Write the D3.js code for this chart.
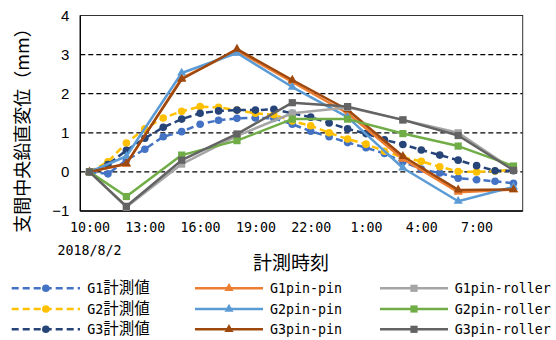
<!DOCTYPE html>
<html>
<head>
<meta charset="utf-8">
<script src="https://cdn.jsdelivr.net/npm/d3@7/dist/d3.min.js"></script>
<style>
  html, body { margin: 0; padding: 0; background: #fff; }
  svg { display: block; }
</style>
</head>
<body>
<svg id="chart" width="556" height="340"></svg>
<script>
// Hourly categories of the measurement period (2018/8/2 10:00 – 8/3 9:00)
const hours = ["10:00","11:00","12:00","13:00","14:00","15:00","16:00","17:00",
  "18:00","19:00","20:00","21:00","22:00","23:00","0:00","1:00","2:00","3:00",
  "4:00","5:00","6:00","7:00","8:00","9:00"];
const tickLabels = ["10:00","13:00","16:00","19:00","22:00","1:00","4:00","7:00"];
const yTicks = [-1, 0, 1, 2, 3, 4];

// Measured mid-span vertical displacement (mm), hourly
const g1Measured = [0, -0.05, 0.3, 0.58, 0.9, 1.03, 1.22, 1.32, 1.37, 1.38, 1.37, 1.22,
  1.04, 0.9, 0.75, 0.62, 0.47, 0.26, 0.07, -0.03, -0.16, -0.2, -0.24, -0.29];
const g2Measured = [0, 0.26, 0.74, 1.1, 1.38, 1.55, 1.67, 1.65, 1.58, 1.5, 1.46, 1.3,
  1.18, 1.0, 0.84, 0.71, 0.53, 0.37, 0.27, 0.13, 0.01, 0.0, 0.02, 0.05];
const g3Measured = [0, 0.19, 0.55, 0.86, 1.14, 1.35, 1.5, 1.56, 1.58, 1.58, 1.6, 1.5,
  1.4, 1.25, 1.1, 0.98, 0.82, 0.7, 0.56, 0.43, 0.3, 0.16, 0.03, 0.03];

// Analysis results at the calculation times
const simTimes = ["10:00","12:00","15:00","18:00","21:00","0:00","3:00","6:00","9:00"];
const g1PinPin    = [0, 0.2, 2.4, 3.1, 2.3, 1.5, 0.33, -0.52, -0.45];
const g2PinPin    = [0, 0.4, 2.53, 3.04, 2.17, 1.4, 0.1, -0.75, -0.38];
const g3PinPin    = [0, 0.21, 2.37, 3.14, 2.35, 1.59, 0.4, -0.46, -0.45];
const g1PinRoller = [0, -0.9, 0.2, 0.92, 1.5, 1.65, 1.33, 1.0, 0.05];
const g2PinRoller = [0, -0.63, 0.43, 0.8, 1.35, 1.35, 0.98, 0.66, 0.15];
const g3PinRoller = [0, -0.88, 0.3, 0.97, 1.77, 1.67, 1.33, 0.93, 0.04];

const series = [
  { name: "G1計測値", times: hours, values: g1Measured, color: "#4472C4", marker: "circle", dashed: true },
  { name: "G2計測値", times: hours, values: g2Measured, color: "#FFC000", marker: "circle", dashed: true },
  { name: "G3計測値", times: hours, values: g3Measured, color: "#264478", marker: "circle", dashed: true },
  { name: "G1pin-pin", times: simTimes, values: g1PinPin, color: "#ED7D31", marker: "triangle" },
  { name: "G2pin-pin", times: simTimes, values: g2PinPin, color: "#5B9BD5", marker: "triangle" },
  { name: "G3pin-pin", times: simTimes, values: g3PinPin, color: "#9E480E", marker: "triangle" },
  { name: "G1pin-roller", times: simTimes, values: g1PinRoller, color: "#A5A5A5", marker: "square" },
  { name: "G2pin-roller", times: simTimes, values: g2PinRoller, color: "#70AD47", marker: "square" },
  { name: "G3pin-roller", times: simTimes, values: g3PinRoller, color: "#636363", marker: "square" }
];

const svg = d3.select("#chart");
const plot = { left: 80.3, right: 522.7, top: 15.5, bottom: 211 };

const x = d3.scalePoint().domain(hours).range([plot.left, plot.right]).padding(0.5);
const y = d3.scaleLinear().domain([-1, 4]).range([plot.bottom, plot.top]);

const monoFont = "'DejaVu Sans Mono', 'Liberation Mono', monospace";
const cjkFont = "'Noto Sans CJK JP', 'Noto Sans', sans-serif";

// Horizontal dashed gridlines
svg.append("g").selectAll("line")
  .data([0, 1, 2, 3])
  .join("line")
  .attr("x1", plot.left).attr("x2", plot.right)
  .attr("y1", d => y(d)).attr("y2", d => y(d))
  .attr("stroke", "#000").attr("stroke-width", 1.2)
  .attr("stroke-dasharray", "5,3");

// Plot frame
svg.append("rect")
  .attr("x", plot.left).attr("y", plot.top)
  .attr("width", plot.right - plot.left).attr("height", plot.bottom - plot.top)
  .attr("fill", "none").attr("stroke", "#333").attr("stroke-width", 1);
svg.append("line")
  .attr("x1", plot.left).attr("x2", plot.right)
  .attr("y1", plot.bottom).attr("y2", plot.bottom)
  .attr("stroke", "#000").attr("stroke-width", 1.3);
svg.append("line")
  .attr("x1", plot.left).attr("x2", plot.left)
  .attr("y1", plot.top).attr("y2", plot.bottom)
  .attr("stroke", "#000").attr("stroke-width", 1.3);

// Y axis
const yAxis = svg.append("g")
  .attr("transform", `translate(${plot.left},0)`)
  .call(d3.axisLeft(y).tickValues(yTicks).tickSize(0).tickPadding(11)
    .tickFormat(d => d < 0 ? "\u2212" + Math.abs(d) : String(d)));
yAxis.select(".domain").remove();
yAxis.selectAll("text")
  .attr("font-family", "'Liberation Sans', Arial, sans-serif")
  .attr("font-size", 15).attr("fill", "#000");

// X axis
const xAxis = svg.append("g")
  .attr("transform", `translate(0,${plot.bottom})`)
  .call(d3.axisBottom(x).tickValues(tickLabels).tickSize(0).tickPadding(12));
xAxis.select(".domain").remove();
xAxis.selectAll("text")
  .attr("font-family", monoFont)
  .attr("font-size", 13.3).attr("fill", "#000");

svg.append("text")
  .attr("x", x("10:00")).attr("y", 255)
  .attr("text-anchor", "middle")
  .attr("font-family", monoFont).attr("font-size", 13.3)
  .text("2018/8/2");

// Axis titles
svg.append("text")
  .attr("x", 291).attr("y", 269.5)
  .attr("text-anchor", "middle")
  .attr("font-family", cjkFont).attr("font-size", 19)
  .text("計測時刻");

svg.append("text")
  .attr("transform", "translate(23,126) rotate(-90)")
  .attr("text-anchor", "middle").attr("dy", "0.36em")
  .attr("font-family", cjkFont).attr("font-size", 18)
  .text("支間中央鉛直変位（mm）");

// Marker drawing
function drawMarker(g, type, color) {
  if (type === "circle") {
    g.append("circle").attr("r", 3.8).attr("fill", color);
  } else if (type === "square") {
    g.append("rect").attr("x", -3.6).attr("y", -3.6).attr("width", 7.2).attr("height", 7.2)
      .attr("fill", color);
  } else {
    g.append("path").attr("d", d3.symbol(d3.symbolTriangle, 36)()).attr("fill", color);
  }
}

const line = d3.line().x(d => x(d.t)).y(d => y(d.v));

series.forEach(s => {
  const pts = s.times.map((t, i) => ({ t, v: s.values[i] }));
  const g = svg.append("g");
  g.append("path")
    .datum(pts)
    .attr("d", line)
    .attr("fill", "none")
    .attr("stroke", s.color)
    .attr("stroke-width", 2.5)
    .attr("stroke-linejoin", "round")
    .attr("stroke-dasharray", s.dashed ? "7,4" : null);
  pts.forEach(p => {
    const mg = g.append("g").attr("transform", `translate(${x(p.t)},${y(p.v)})`);
    drawMarker(mg, s.marker, s.color);
  });
});

// Legend: three columns, three rows
const legendCols = [
  { x0: 11.7, x1: 80, tx: 87.3 },
  { x0: 195, x1: 263, tx: 270 },
  { x0: 380, x1: 448, tx: 454.7 }
];
const legendRows = [288.3, 309, 329.3];

series.forEach((s, i) => {
  const col = legendCols[Math.floor(i / 3)];
  const ry = legendRows[i % 3];
  const g = svg.append("g");
  g.append("line")
    .attr("x1", col.x0).attr("x2", col.x1).attr("y1", ry).attr("y2", ry)
    .attr("stroke", s.color).attr("stroke-width", 2.5)
    .attr("stroke-dasharray", s.dashed ? "7,4" : null);
  const mg = g.append("g").attr("transform", `translate(${(col.x0 + col.x1) / 2},${ry})`);
  drawMarker(mg, s.marker, s.color);
  const t = g.append("text").attr("x", col.tx).attr("y", ry + 5);
  // Latin characters in a monospace face, kanji in the CJK face
  const parts = s.name.match(/[\x00-\x7F]+|[^\x00-\x7F]+/g);
  parts.forEach(p => {
    const ascii = /^[\x00-\x7F]+$/.test(p);
    t.append("tspan")
      .attr("font-family", ascii ? monoFont : cjkFont)
      .attr("font-size", ascii ? 13.3 : 15.5)
      .text(p);
  });
});
</script>
</body>
</html>
